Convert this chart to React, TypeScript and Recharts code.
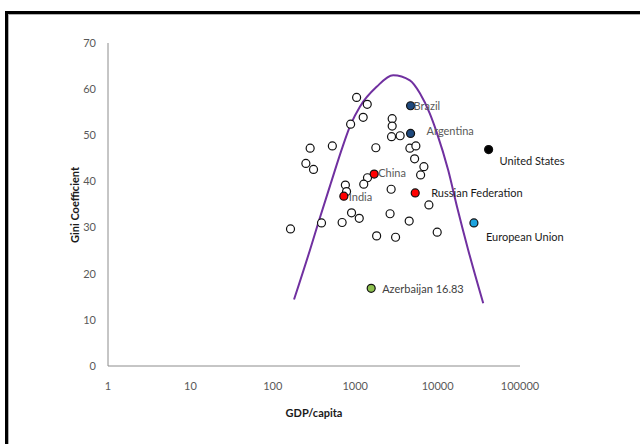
import React from 'react';
import { ComposedChart, Scatter, Line, XAxis, YAxis } from 'recharts';

const xTicks = [1, 10, 100, 1000, 10000, 100000];
const yTicks = [0, 10, 20, 30, 40, 50, 60, 70];

// unlabelled countries: GDP per capita, Gini
const others = [
  { x: 1040, y: 58.2 }, { x: 1400, y: 56.7 }, { x: 880, y: 52.4 }, { x: 1250, y: 53.9 },
  { x: 2810, y: 53.6 }, { x: 2810, y: 52.0 }, { x: 2760, y: 49.7 }, { x: 3510, y: 49.9 },
  { x: 284, y: 47.2 }, { x: 528, y: 47.7 }, { x: 1780, y: 47.3 }, { x: 4610, y: 47.2 },
  { x: 5450, y: 47.7 }, { x: 252, y: 43.9 }, { x: 312, y: 42.6 }, { x: 5260, y: 44.9 },
  { x: 6820, y: 43.2 }, { x: 6220, y: 41.4 }, { x: 1410, y: 40.8 }, { x: 1270, y: 39.4 },
  { x: 760, y: 39.2 }, { x: 785, y: 37.8 }, { x: 2730, y: 38.3 }, { x: 7840, y: 34.9 },
  { x: 903, y: 33.2 }, { x: 1120, y: 32.0 }, { x: 694, y: 31.1 }, { x: 390, y: 31.0 },
  { x: 2650, y: 33.0 }, { x: 4520, y: 31.4 }, { x: 164, y: 29.7 }, { x: 1820, y: 28.2 },
  { x: 3090, y: 27.9 }, { x: 9890, y: 29.0 },
];

const latinAmerica = [
  { name: 'Brazil', x: 4700, y: 56.4 },
  { name: 'Argentina', x: 4700, y: 50.4 },
];
const emerging = [
  { name: 'China', x: 1700, y: 41.6 },
  { name: 'India', x: 728, y: 36.8 },
  { name: 'Russian Federation', x: 5350, y: 37.5 },
];
const unitedStates = [{ name: 'United States', x: 41600, y: 46.9 }];
const europeanUnion = [{ name: 'European Union', x: 27600, y: 31.0 }];
const azerbaijan = [{ name: 'Azerbaijan 16.83', x: 1563, y: 16.83 }];

// inverted-U trend line
const trend = [
  { x: 181, y: 14.4 }, { x: 282, y: 25.1 }, { x: 356, y: 31.0 }, { x: 506, y: 39.6 },
  { x: 706, y: 47.6 }, { x: 885, y: 52.4 }, { x: 1140, y: 56.2 }, { x: 1820, y: 60.5 },
  { x: 2890, y: 63.0 }, { x: 4610, y: 61.9 }, { x: 6100, y: 59.1 }, { x: 8050, y: 54.7 },
  { x: 9730, y: 50.7 }, { x: 13460, y: 42.4 }, { x: 17200, y: 34.5 }, { x: 23550, y: 25.1 },
  { x: 35800, y: 13.6 },
];

const FONT = 'Lato, "Open Sans", sans-serif';

const labelPlace: Record<string, { dx: number; dy: number; color: string }> = {
  Brazil: { dx: 3, dy: 0, color: '#595959' },
  Argentina: { dx: 16, dy: -3, color: '#595959' },
  'United States': { dx: 11, dy: 11, color: '#1a1a1a' },
  China: { dx: 4, dy: -2, color: '#595959' },
  India: { dx: 5, dy: 0, color: '#595959' },
  'Russian Federation': { dx: 16, dy: 0, color: '#1a1a1a' },
  'European Union': { dx: 12, dy: 14, color: '#1a1a1a' },
  'Azerbaijan 16.83': { dx: 11, dy: 0, color: '#404040' },
};

const dot = (fill: string) => (p: any) => {
  const name = p.payload && p.payload.name;
  const lp = name ? labelPlace[name] : null;
  return (
    <g>
      <circle cx={p.cx} cy={p.cy} r={4} fill={fill} stroke="#111" strokeWidth={1.2} />
      {lp && (
        <text
          x={p.cx + lp.dx}
          y={p.cy + lp.dy}
          dominantBaseline="central"
          fontSize={11}
          fontFamily={FONT}
          fill={lp.color}
        >
          {name}
        </text>
      )}
    </g>
  );
};

const tickStyle = { fontSize: 11, fontFamily: FONT, fill: '#595959' };

export default function App() {
  return (
    <div style={{ position: 'absolute', left: 0, top: 0, width: 640, height: 444, overflow: 'hidden', background: '#fff' }}>
      <div
        style={{
          position: 'absolute', left: 5, top: 11, width: 700, height: 500,
          borderLeft: '3px solid #000', borderTop: '3px solid #000',
          boxShadow: 'inset 1px 1px 0 #b0b0b0',
        }}
      />
      <div style={{ position: 'absolute', left: 0, top: 0 }}>
        <ComposedChart width={640} height={444} margin={{ top: 43, right: 120, bottom: 48, left: 0 }}>
          <XAxis
            type="number"
            dataKey="x"
            scale="log"
            domain={[1, 100000]}
            ticks={xTicks}
            height={30}
            tickLine={false}
            tickSize={6}
            tickMargin={10}
            stroke="#8c8c8c"
            tick={tickStyle}
            tickFormatter={(v: number) => String(v)}
            label={() => (
              <text x={314} y={412} textAnchor="middle" dominantBaseline="central" fontSize={11} fontWeight="bold" fontFamily={FONT} fill="#1a1a1a">
                GDP/capita
              </text>
            )}
          />
          <YAxis
            type="number"
            dataKey="y"
            domain={[0, 70]}
            ticks={yTicks}
            width={108}
            tickLine={false}
            tickSize={6}
            tickMargin={6}
            stroke="#8c8c8c"
            tick={tickStyle}
            label={() => (
              <text x={74} y={205} transform="rotate(-90, 74, 205)" textAnchor="middle" dominantBaseline="central" fontSize={11} fontWeight="bold" fontFamily={FONT} fill="#1a1a1a">
                Gini Coefficient
              </text>
            )}
          />
          <Line data={trend} dataKey="y" type="monotone" stroke="#7030A0" strokeWidth={2} dot={false} isAnimationActive={false} />
          <Scatter data={others} dataKey="y" shape={dot('#ffffff')} isAnimationActive={false} />
          <Scatter data={latinAmerica} dataKey="y" shape={dot('#1F497D')} isAnimationActive={false} />
          <Scatter data={emerging} dataKey="y" shape={dot('#FF0000')} isAnimationActive={false} />
          <Scatter data={unitedStates} dataKey="y" shape={dot('#000000')} isAnimationActive={false} />
          <Scatter data={europeanUnion} dataKey="y" shape={dot('#1CA3DE')} isAnimationActive={false} />
          <Scatter data={azerbaijan} dataKey="y" shape={dot('#8DC04F')} isAnimationActive={false} />
        </ComposedChart>
      </div>
    </div>
  );
}
